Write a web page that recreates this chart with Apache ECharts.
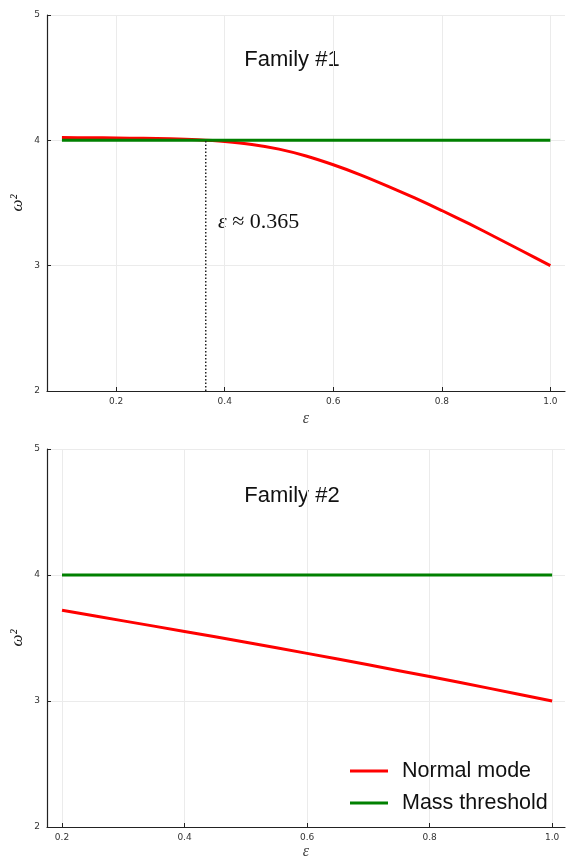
<!DOCTYPE html>
<html><head><meta charset="utf-8">
<script src="https://cdn.jsdelivr.net/npm/echarts@6/dist/echarts.min.js"></script>
<style>html,body{margin:0;padding:0;background:#fff}#c{width:566px;height:857px}</style>
</head><body><div id="c"></div>
<script>
// ---- Data ----
const eps1 = [0.10,0.15,0.20,0.25,0.30,0.35,0.40,0.45,0.50,0.55,0.60,0.65,0.70,0.75,0.80,0.85,0.90,0.95,1.00];
const normal1 = [4.022,4.021,4.019,4.016,4.012,4.004,3.990,3.967,3.930,3.875,3.805,3.725,3.635,3.540,3.440,3.335,3.225,3.113,3.000];
const threshold1 = [4,4,4,4,4,4,4,4,4,4,4,4,4,4,4,4,4,4,4];
const eps2 = [0.2,0.3,0.4,0.5,0.6,0.7,0.8,0.9,1.0];
const normal2 = [3.72,3.636,3.552,3.466,3.378,3.287,3.194,3.098,3.0];
const threshold2 = [4,4,4,4,4,4,4,4,4];
const crossingEps = 0.365;
const crossingLine = [2, 4];
const xTicks = [0.2,0.4,0.6,0.8,1.0];
const yTicks = [2,3,4,5];
const titles = ['Family #1','Family #2'];
const seriesNames = ['Normal mode','Mass threshold'];
const annotationText = '≈ 0.365';

const zip = (xs, ys) => xs.map((x, i) => [x, ys[i]]);
const RED = '#ff0000', GREEN = '#008000';
const SANS = '"Liberation Sans", Arial, sans-serif';
const SERIF = '"Liberation Serif", "Times New Roman", serif';

function xAxisCfg(grid, min, max, gap) {
  return {
    type: 'value', gridIndex: grid, min: min, max: max,
    name: 'ε', nameLocation: 'middle', nameGap: gap,
    nameTextStyle: {fontFamily: SERIF, fontStyle: 'italic', fontSize: 16, color: '#444'},
    axisLine: {show: true, onZero: false, lineStyle: {color: '#222', width: 1.2}},
    axisTick: {show: true, inside: true, length: 4, customValues: xTicks, lineStyle: {color: '#222'}},
    axisLabel: {customValues: xTicks, formatter: v => v.toFixed(1), fontSize: 9, color: '#333', margin: 6, fontFamily: '"DejaVu Sans", sans-serif'},
    splitLine: {show: true, lineStyle: {color: '#ebebeb', width: 1}}
  };
}
function yAxisCfg(grid) {
  return {
    type: 'value', gridIndex: grid, min: 2, max: 5, interval: 1,
    name: 'ω²', nameLocation: 'middle', nameGap: 21, nameMoveOverlap: false,
    nameTextStyle: {fontFamily: SERIF, fontStyle: 'italic', fontSize: 17, color: '#222'},
    axisLine: {show: true, onZero: false, lineStyle: {color: '#222', width: 1.2}},
    axisTick: {show: true, inside: true, length: 4, customValues: yTicks, lineStyle: {color: '#222'}},
    axisLabel: {customValues: yTicks, fontSize: 9, color: '#333', margin: 7, fontFamily: '"DejaVu Sans", sans-serif'},
    splitLine: {show: true, lineStyle: {color: '#ebebeb', width: 1}}
  };
}
function lineSeries(name, grid, data, color) {
  return {
    name: name, type: 'line', xAxisIndex: grid, yAxisIndex: grid, data: data,
    showSymbol: false, symbol: 'none', smooth: 0.3, animation: false,
    lineStyle: {color: color, width: 3}, itemStyle: {color: color}
  };
}

const chart = echarts.init(document.getElementById('c'), null, {renderer: 'canvas'});
chart.setOption({
  animation: false,
  backgroundColor: '#fff',
  grid: [
    {left: 47, top: 15, width: 518, height: 376, outerBoundsMode: 'none', containLabel: false},
    {left: 47, top: 449, width: 518, height: 378, outerBoundsMode: 'none', containLabel: false}
  ],
  xAxis: [xAxisCfg(0, 0.0725, 1.027, 20), xAxisCfg(1, 0.1755, 1.021, 17)],
  yAxis: [yAxisCfg(0), yAxisCfg(1)],
  legend: {
    show: true, orient: 'vertical', left: 350, top: 760, padding: 0,
    data: seriesNames, icon: 'rect', itemWidth: 38, itemHeight: 3, itemGap: 10,
    textStyle: {fontFamily: SANS, fontSize: 21.5, color: '#111', padding: [0, 0, 0, 9]}
  },
  graphic: [
    {type: 'text', x: 292, y: 60, style: {text: titles[0], fontFamily: SANS, fontSize: 22, fill: '#111', align: 'center', verticalAlign: 'middle'}},
    {type: 'text', x: 292, y: 496, style: {text: titles[1], fontFamily: SANS, fontSize: 22, fill: '#111', align: 'center', verticalAlign: 'middle'}}
  ],
  series: [
    lineSeries(seriesNames[0], 0, zip(eps1, normal1), RED),
    lineSeries(seriesNames[1], 0, zip(eps1, threshold1), GREEN),
    {
      name: 'crossing', type: 'line', xAxisIndex: 0, yAxisIndex: 0,
      data: crossingLine.map(v => [crossingEps, v]), symbol: 'none',
      lineStyle: {color: '#222', width: 1.5, type: [1.5, 2]}, silent: true
    },
    lineSeries(seriesNames[0], 1, zip(eps2, normal2), RED),
    lineSeries(seriesNames[1], 1, zip(eps2, threshold2), GREEN)
  ]
});

const ann = chart.convertToPixel({gridIndex: 0}, [0.3876, 3.35]);
chart.setOption({
  graphic: [
    {}, {},
    {type: 'text', x: ann[0], y: ann[1], style: {
      text: '{e|ε} ' + annotationText,
      rich: {e: {fontFamily: SERIF, fontStyle: 'italic', fontSize: 22, fill: '#111'}},
      fontFamily: SERIF, fontSize: 22, fill: '#111', align: 'left', verticalAlign: 'middle'}}
  ]
});
</script>
</body></html>
